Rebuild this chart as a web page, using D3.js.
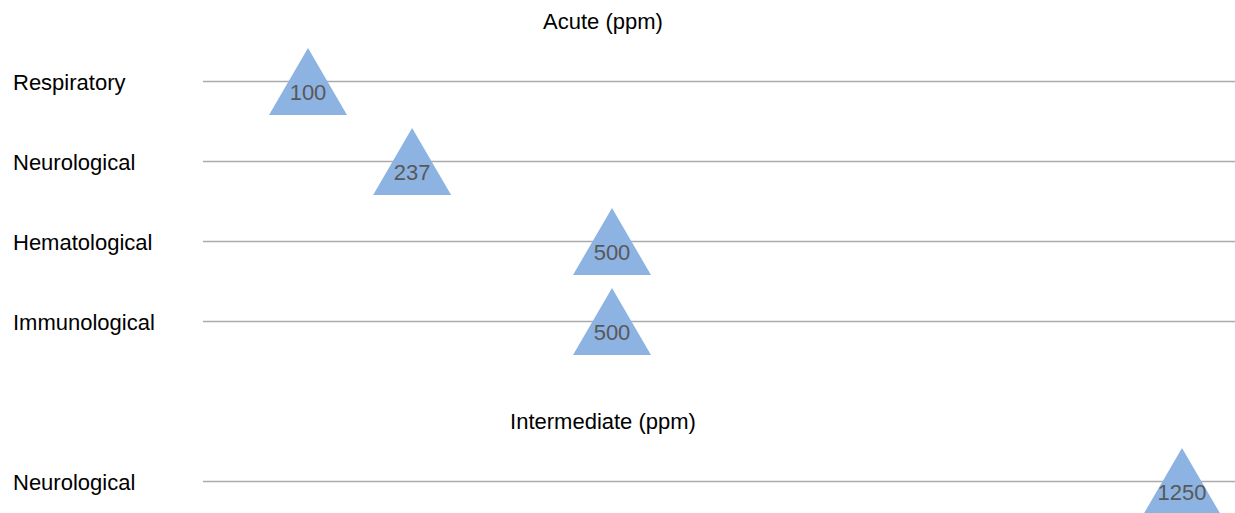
<!DOCTYPE html>
<html>
<head>
<meta charset="utf-8">
<script src="https://cdn.jsdelivr.net/npm/d3@7"></script>
<style>
  html, body { margin: 0; padding: 0; background: #fff; }
  svg { display: block; }
  text { font-family: "Liberation Sans", Arial, sans-serif; font-size: 22px; }
</style>
</head>
<body>
<svg id="chart" width="1235" height="513"></svg>
<script>
// Exposure durations (section headings) and the endpoints listed under each
const groups = ["Acute (ppm)", "Intermediate (ppm)"];
const acuteEndpoints = ["Respiratory", "Neurological", "Hematological", "Immunological"];
const acuteValues = [100, 237, 500, 500];
const intermediateEndpoints = ["Neurological"];
const intermediateValues = [1250];

const W = 1235, H = 513;
const svg = d3.select("#chart");

// Row slots: heading, acute rows, heading, intermediate rows
const rows = [];
let slot = -1;
const headings = [];
headings.push({ label: groups[0], slot: slot++ });
acuteEndpoints.forEach((c, i) => rows.push({ label: c, value: acuteValues[i], slot: slot++ }));
headings.push({ label: groups[1], slot: slot++ });
intermediateEndpoints.forEach((c, i) => rows.push({ label: c, value: intermediateValues[i], slot: slot++ }));

const y = d3.scaleLinear().domain([0, 5]).range([81.5, 481.5]);
const x = d3.scaleLinear().domain([0, 1250]).range([232, 1182]);

const lineX0 = 203, lineX1 = W;
const triW = 78, triH = 67;

// Section headings
svg.selectAll("text.heading")
  .data(headings)
  .join("text")
  .attr("class", "heading")
  .attr("x", 603)
  .attr("y", d => y(d.slot) + 27)
  .attr("text-anchor", "middle")
  .attr("fill", "#000")
  .text(d => d.label);

// Category labels
svg.selectAll("text.cat")
  .data(rows)
  .join("text")
  .attr("class", "cat")
  .attr("x", 13)
  .attr("y", d => y(d.slot) + 8)
  .attr("fill", "#000")
  .text(d => d.label);

// Row guide lines
svg.selectAll("line.row")
  .data(rows)
  .join("line")
  .attr("class", "row")
  .attr("x1", lineX0)
  .attr("x2", lineX1)
  .attr("y1", d => y(d.slot))
  .attr("y2", d => y(d.slot))
  .attr("stroke", "#ababab")
  .attr("stroke-width", 1.5);

// Triangle markers
const tri = d => {
  const cx = x(d.value), cy = y(d.slot);
  return `M${cx},${cy - triH / 2}L${cx + triW / 2},${cy + triH / 2}L${cx - triW / 2},${cy + triH / 2}Z`;
};
svg.selectAll("path.marker")
  .data(rows)
  .join("path")
  .attr("class", "marker")
  .attr("d", tri)
  .attr("fill", "#8db3e2");

// Value labels
svg.selectAll("text.val")
  .data(rows)
  .join("text")
  .attr("class", "val")
  .attr("x", d => x(d.value))
  .attr("y", d => y(d.slot) + 18.5)
  .attr("text-anchor", "middle")
  .attr("fill", "#595959")
  .text(d => d.value);
</script>
</body>
</html>
